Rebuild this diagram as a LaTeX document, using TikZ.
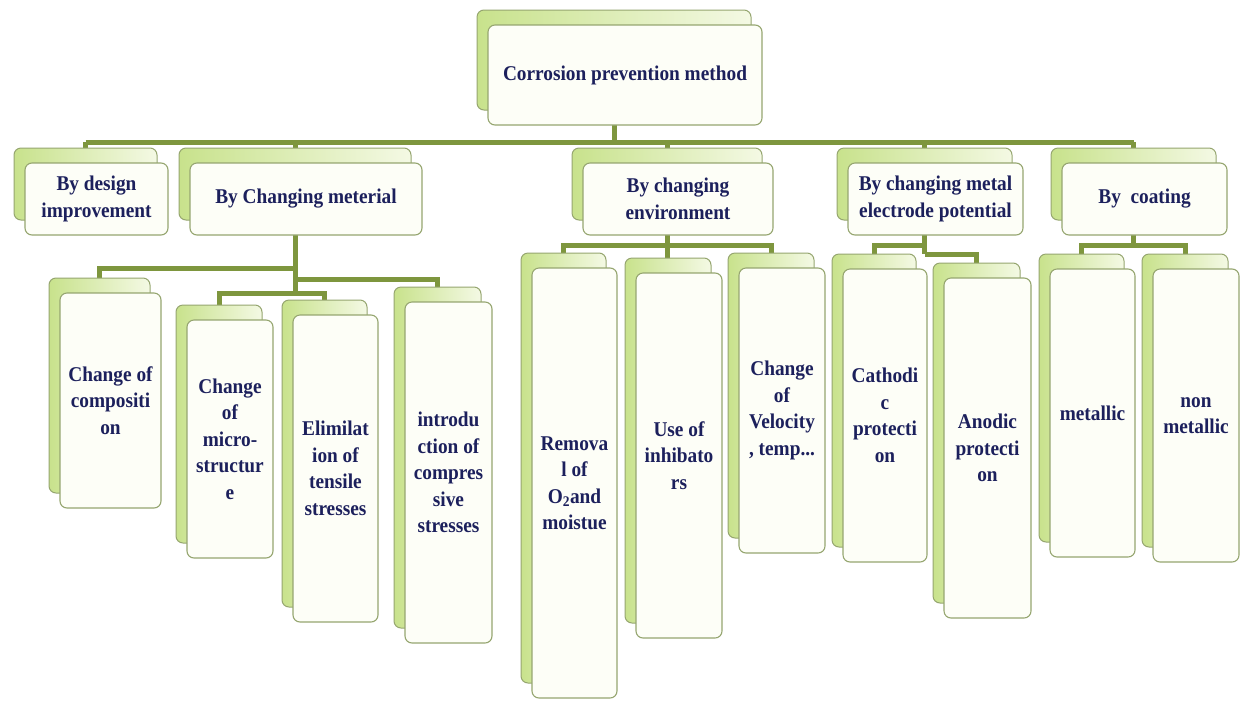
\documentclass[tikz,border=0pt]{standalone}
\usepackage{fontspec}
\setmainfont{Liberation Serif}[FakeStretch=0.92]
\usetikzlibrary{backgrounds}
\definecolor{txt}{RGB}{28,32,92}
\definecolor{conncol}{RGB}{126,150,62}
\definecolor{backL}{RGB}{200,226,140}
\definecolor{backR}{RGB}{244,249,228}
\definecolor{edgecol}{RGB}{150,166,112}
\definecolor{frontfill}{RGB}{253,254,247}
\tikzset{
  backbox/.style={draw=edgecol, line width=1pt, rounded corners=7pt, left color=backL, right color=backR, inner sep=0pt},
  frontbox/.style={draw=edgecol, line width=1.1pt, rounded corners=7pt, fill=frontfill, inner sep=0pt, align=center, text=txt, font=\fontsize{21}{26.5}\selectfont\bfseries},
  link/.style={draw=conncol, line width=5pt}
}
% #1 name, #2 x, #3 y (front centre), #4 width, #5 height, #6 text
\newcommand\pairbox[6]{%
  \node[backbox, minimum width=#4pt, minimum height=#5pt] (#1b) at (#2-11,#3-15) {};
  \node[frontbox, minimum width=#4pt, minimum height=#5pt] (#1) at (#2,#3) {#6};
}
\begin{document}
\begin{tikzpicture}[x=1pt,y=-1pt]
\useasboundingbox (0,0) rectangle (1241,702);
% top
\pairbox{top}{625}{75}{274}{100}{Corrosion prevention method}
% second level
\pairbox{design}{96.5}{199}{143}{72}{By design\\improvement}
\pairbox{mat}{306}{199}{232}{72}{By Changing meterial}
\pairbox{env}{678}{199}{190}{72}{By changing\\environment}
\pairbox{met}{935.5}{199}{175}{72}{By changing metal\\electrode potential}
\pairbox{coat}{1144.5}{199}{165}{72}{By~ coating}
% leaves
\pairbox{comp}{110.5}{400.5}{101}{215}{Change of\\compositi\\on}
\pairbox{micro}{230}{439}{86}{238}{Change\\of\\micro-\\structur\\e}
\pairbox{elim}{335.5}{468.5}{85}{307}{Elimilat\\ion of\\tensile\\stresses}
\pairbox{intro}{448.5}{472.5}{87}{341}{introdu\\ction of\\compres\\sive\\stresses}
\pairbox{remv}{574.5}{483}{85}{430}{Remova\\l of\\O\textsubscript{2}and\\moistue}
\pairbox{inhib}{679}{455.5}{86}{365}{Use of\\inhibato\\rs}
\pairbox{veloc}{782}{410.5}{86}{285}{Change\\of\\Velocity\\, temp...}
\pairbox{cath}{885}{415.5}{84}{293}{Cathodi\\c\\protecti\\on}
\pairbox{anod}{987.5}{448}{87}{340}{Anodic\\protecti\\on}
\pairbox{metal}{1092.5}{413}{85}{288}{metallic}
\pairbox{nonmet}{1196}{415.5}{86}{293}{non\\metallic}
% levels
\coordinate (busY) at (0,142);
\coordinate (m268) at (0,268);
\coordinate (m279) at (0,279);
\coordinate (m293) at (0,293);
\coordinate (e245) at (0,245);
\coordinate (e254) at (0,254);
\begin{scope}[on background layer]
\fill[white] (0,0) rectangle (1241,702);
\draw[link] (topb.south) -- (topb.south |- busY);
\draw[link] (designb.north |- busY) -- (coatb.north |- busY);
\draw[link] (designb.north) -- (designb.north |- busY);
\draw[link] (matb.north) -- (matb.north |- busY);
\draw[link] (envb.north) -- (envb.north |- busY);
\draw[link] (metb.north) -- (metb.north |- busY);
\draw[link] (coatb.north) -- (coatb.north |- busY);
% changing material
\draw[link] (matb.south) -- (matb.south |- m293);
\draw[link] (compb.north) |- (matb.south |- m268);
\draw[link] (introb.north) |- (matb.south |- m279);
\draw[link] (microb.north) |- (matb.south |- m293);
\draw[link] (elimb.north) |- (matb.south |- m293);
% environment
\draw[link] (envb.south) -- (envb.south |- inhibb.north);
\draw[link] (remvb.north) |- (envb.south |- e245);
\draw[link] (velocb.north) |- (envb.south |- e245);
% electrode potential
\draw[link] (metb.south) -- (metb.south |- e254);
\draw[link] (cathb.north) |- (metb.south |- e245);
\draw[link] (anodb.north) |- (metb.south |- e254);
% coating
\draw[link] (coatb.south) -- (coatb.south |- e245);
\draw[link] (metalb.north) |- (coatb.south |- e245);
\draw[link] (nonmetb.north) |- (coatb.south |- e245);
\end{scope}
\end{tikzpicture}
\end{document}
